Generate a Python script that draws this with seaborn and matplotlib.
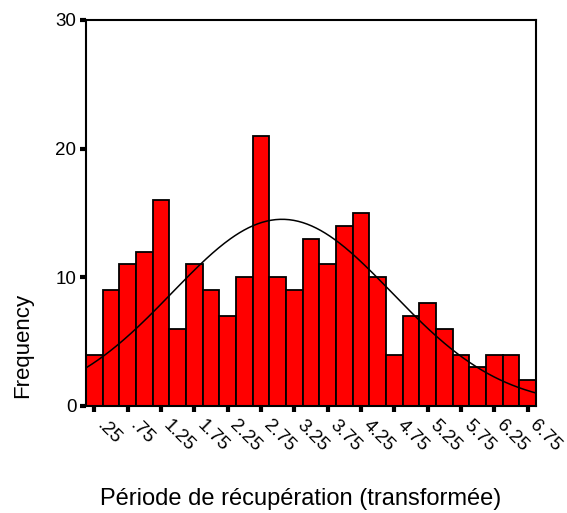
import numpy as np
import pandas as pd
import matplotlib
matplotlib.use("Agg")
import matplotlib.pyplot as plt
import matplotlib.transforms as mtransforms
import seaborn as sns

# Data
bin_centers = [0.25 + 0.25 * i for i in range(27)]
counts = [4, 9, 11, 12, 16, 6, 11, 9, 7, 10, 21, 10, 9, 13, 11,
          14, 15, 10, 4, 7, 8, 6, 4, 3, 4, 4, 2]
tick_values = [0.25 + 0.5 * i for i in range(14)]
tick_labels = [".25", ".75", "1.25", "1.75", "2.25", "2.75", "3.25", "3.75",
               "4.25", "4.75", "5.25", "5.75", "6.25", "6.75"]
y_ticks = [0, 10, 20, 30]

bin_width = 0.25

sns.set_style("white")
plt.rcParams['font.family'] = ['Liberation Sans', 'DejaVu Sans']
plt.rcParams['text.color'] = 'black'
plt.rcParams['xtick.color'] = 'black'
plt.rcParams['ytick.color'] = 'black'

fig = plt.figure(figsize=(5.67, 5.13), dpi=100)
ax = fig.add_axes([86 / 567, (513 - 406) / 513, 450 / 567, 386 / 513])

df = pd.DataFrame({"x": bin_centers, "w": counts})
lo = bin_centers[0] - bin_width / 2
hi = bin_centers[-1] + bin_width / 2
sns.histplot(data=df, x="x", weights="w", binwidth=bin_width, binrange=(lo, hi),
             ax=ax, color="#ff0000", edgecolor="black", linewidth=1.3, alpha=1.0)

# Normal curve fitted to the data
c = np.array(bin_centers)
w = np.array(counts)
n = w.sum()
mu = (c * w).sum() / n
sd = np.sqrt((w * (c - mu) ** 2).sum() / (n - 1))
xs = np.linspace(lo, hi, 300)
ys = n * bin_width / (sd * np.sqrt(2 * np.pi)) * np.exp(-0.5 * ((xs - mu) / sd) ** 2)
sns.lineplot(x=xs, y=ys, ax=ax, color="black", linewidth=1.1)

ax.set_xlim(lo, hi)
ax.set_ylim(0, 30)
ax.set_xticks(tick_values)
ax.set_xticklabels([])
offset = mtransforms.ScaledTranslation(11 / 100, -11 / 100, fig.dpi_scale_trans)
trans = ax.get_xaxis_transform() + offset
for tv, tl in zip(tick_values, tick_labels):
    ax.text(tv, 0, tl, transform=trans, rotation=-45, rotation_mode="anchor",
            ha="left", va="top", fontsize=13.5, clip_on=False)
ax.set_yticks(y_ticks)
ax.set_yticklabels([str(v) for v in y_ticks], fontsize=13.5)
ax.tick_params(axis="both", direction="out", length=4, width=3, color="black",
               bottom=True, left=True, labelcolor="black")
ax.tick_params(axis="y", pad=3)

for s in ax.spines.values():
    s.set_visible(True)
    s.set_color("black")
    s.set_linewidth(1.5)

ax.set_xlabel("")
ax.set_ylabel("")

fig.text(23 / 567, 1 - 345 / 513, "Frequency", rotation=90,
         ha="center", va="center", fontsize=16)
fig.text(301 / 567, 1 - 499 / 513, "Période de récupération (transformée)",
         ha="center", va="center", fontsize=17)

fig.savefig("out.png", dpi=100)
